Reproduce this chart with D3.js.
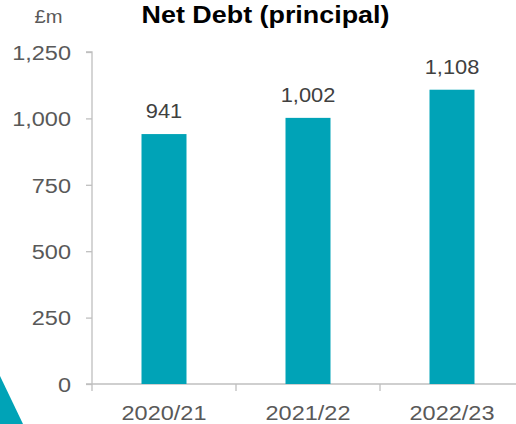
<!DOCTYPE html>
<html>
<head>
<meta charset="utf-8">
<script src="https://cdn.jsdelivr.net/npm/d3@7"></script>
<style>
  body { margin: 0; background: #fff; }
  svg { display: block; font-family: "Liberation Sans", Arial, sans-serif; }
</style>
</head>
<body>
<div id="chart"></div>
<script>
const years = ["2020/21", "2021/22", "2022/23"];
const netDebt = [941, 1002, 1108];
const yTicks = [0, 250, 500, 750, 1000, 1250];

const W = 516, H = 424;
const stretch = 1.12; // source text is a bit wider than Arial
const svg = d3.select("#chart").append("svg")
  .attr("width", W)
  .attr("height", H);

function label(g, tx, ty) {
  return g.attr("transform", `translate(${tx},${ty}) scale(${stretch},1)`);
}

// decorative corner shape
svg.append("path")
  .attr("d", "M0,376 L23,424 L0,424 Z")
  .attr("fill", "#00A3B7");

const x = d3.scaleBand().domain(years).range([92, 524]).paddingInner(0).paddingOuter(0);
const y = d3.scaleLinear().domain([0, 1250]).range([384, 52]);
const barW = 45;

// y axis
const yAxis = svg.append("g")
  .attr("transform", "translate(92,0)")
  .call(d3.axisLeft(y).tickValues(yTicks).tickSize(6).tickPadding(15).tickFormat(d3.format(",")));
yAxis.select(".domain").attr("stroke", "#bfbfbf").attr("stroke-width", 1.3)
  .attr("d", `M-6,${y(1250)}H0V${y(0)}`);
yAxis.selectAll(".tick line").attr("stroke", "#bfbfbf").attr("stroke-width", 1.3);
yAxis.selectAll(".tick text").remove();
yAxis.selectAll(".tick").append("text")
  .each(function() { label(d3.select(this), -21, 0); })
  .attr("dy", "0.35em")
  .attr("text-anchor", "end")
  .attr("fill", "#595959")
  .attr("font-size", "21px")
  .text(d3.format(","));

// x axis
const xAxis = svg.append("g")
  .attr("transform", "translate(0,384)");
xAxis.append("line")
  .attr("x1", 86).attr("x2", 524)
  .attr("stroke", "#bfbfbf").attr("stroke-width", 1.3);
xAxis.selectAll(".sep")
  .data(years.concat(["end"]))
  .enter().append("line")
  .attr("class", "sep")
  .attr("x1", (d, i) => 92 + i * x.bandwidth())
  .attr("x2", (d, i) => 92 + i * x.bandwidth())
  .attr("y1", 0).attr("y2", 7)
  .attr("stroke", "#bfbfbf").attr("stroke-width", 1.3);
xAxis.selectAll(".lbl")
  .data(years)
  .enter().append("text")
  .attr("class", "lbl")
  .each(function(d) { label(d3.select(this), x(d) + x.bandwidth() / 2, 36); })
  .attr("text-anchor", "middle")
  .attr("fill", "#595959")
  .attr("font-size", "21px")
  .text(d => d);

// bars
svg.selectAll(".bar")
  .data(netDebt)
  .enter().append("rect")
  .attr("class", "bar")
  .attr("x", (d, i) => x(years[i]) + x.bandwidth() / 2 - barW / 2)
  .attr("width", barW)
  .attr("y", d => y(d))
  .attr("height", d => y(0) - y(d))
  .attr("fill", "#00A3B7");

svg.selectAll(".val")
  .data(netDebt)
  .enter().append("text")
  .attr("class", "val")
  .each(function(d, i) { label(d3.select(this), x(years[i]) + x.bandwidth() / 2, y(d) - 16); })
  .attr("text-anchor", "middle")
  .attr("fill", "#404040")
  .attr("font-size", "19.5px")
  .text(d3.format(","));

// title and unit
label(svg.append("text"), 265.5, 23)
  .attr("text-anchor", "middle")
  .attr("font-size", "24px")
  .attr("font-weight", "bold")
  .attr("fill", "#000")
  .text("Net Debt (principal)");

label(svg.append("text"), 48.5, 23)
  .attr("text-anchor", "middle")
  .attr("font-size", "18px")
  .attr("fill", "#595959")
  .text("£m");
</script>
</body>
</html>
